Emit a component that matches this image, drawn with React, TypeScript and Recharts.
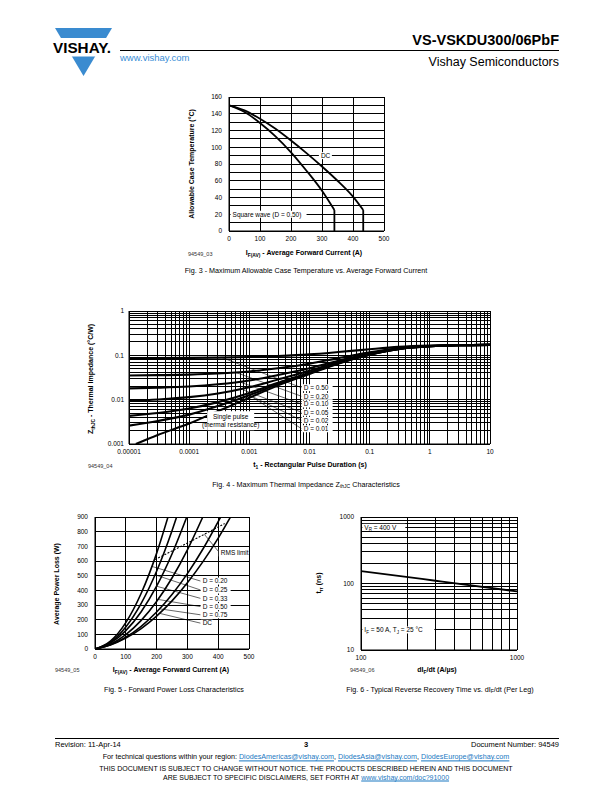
import React from 'react';
import { LineChart, Line, XAxis, YAxis, CartesianGrid, ReferenceLine, ReferenceDot } from 'recharts';

const FONT = '"Liberation Sans", Arial, Helvetica, sans-serif';

// ---------- Fig. 3 ----------
const fig3XTicks = [0, 100, 200, 300, 400, 500];
const fig3YTicks = [0, 10, 20, 30, 40, 50, 60, 70, 80, 90, 100, 110, 120, 130, 140, 150, 160];
const fig3DcCurrent = [0, 50, 100, 150, 200, 250, 300, 350, 400, 433];
const fig3DcTemp = [150, 144, 134, 122, 108, 93, 77, 60, 41, 25];
const fig3DcDropCurrent = [433, 433];
const fig3DcDropTemp = [25, 0];
const fig3SqCurrent = [0, 50, 100, 150, 200, 250, 300, 340];
const fig3SqTemp = [150, 142, 129, 113, 94, 72, 48, 25];
const fig3SqDropCurrent = [340, 340];
const fig3SqDropTemp = [25, 0];

// ---------- Fig. 4 ----------
const fig4Mantissas = [1, 2, 3, 4, 5, 6, 7, 8, 9];
const fig4XDecades = [-5, -4, -3, -2, -1, 0];
const fig4YDecades = [-3, -2, -1];
const fig4XLabels: Record<string, string> = { '0.00001': '0.00001', '0.0001': '0.0001', '0.001': '0.001', '0.01': '0.01', '0.1': '0.1', '1': '1', '10': '10' };
const fig4YLabels: Record<string, string> = { '0.001': '0.001', '0.01': '0.01', '0.1': '0.1', '1': '1' };
const fig4Time = [0.00001, 0.00003, 0.0001, 0.0003, 0.001, 0.003, 0.01, 0.03, 0.1, 0.3, 1, 3, 10];
const fig4D050 = [0.0864, 0.0868, 0.0875, 0.0888, 0.0915, 0.0965, 0.105, 0.1185, 0.1375, 0.155, 0.166, 0.1705, 0.172];
const fig4D020 = [0.0351, 0.0357, 0.0367, 0.0388, 0.0432, 0.0512, 0.0648, 0.0864, 0.1168, 0.1448, 0.1624, 0.1696, 0.172];
const fig4D010 = [0.018, 0.0186, 0.0198, 0.0222, 0.0271, 0.0361, 0.0514, 0.0757, 0.1099, 0.1414, 0.1612, 0.1693, 0.172];
const fig4D005 = [0.0094, 0.0101, 0.0114, 0.0138, 0.019, 0.0286, 0.0447, 0.0704, 0.1065, 0.1397, 0.1606, 0.1692, 0.172];
const fig4D002 = [0.0043, 0.005, 0.0063, 0.0088, 0.0142, 0.024, 0.0407, 0.0671, 0.1044, 0.1387, 0.1602, 0.1691, 0.172];
const fig4D001 = [0.0026, 0.0033, 0.0046, 0.0072, 0.0126, 0.0225, 0.0393, 0.0661, 0.1037, 0.1383, 0.1601, 0.169, 0.172];
const fig4SingleTime = [0.000013, 0.00003, 0.0001, 0.0003, 0.001, 0.003, 0.01, 0.03, 0.1, 0.3, 1, 3, 10];
const fig4Single = [0.001, 0.0016, 0.0029, 0.0055, 0.011, 0.021, 0.038, 0.065, 0.103, 0.138, 0.16, 0.169, 0.172];
const fig4LabelNames = ['D = 0.50', 'D = 0.20', 'D = 0.10', 'D = 0.05', 'D = 0.02', 'D = 0.01'];
const fig4LabelZ = [0.0186, 0.0119, 0.00798, 0.00519, 0.00342, 0.00221];
const fig4LabelT = 0.0074;
const fig4LeaderT = [0.00035, 0.0006, 0.0007, 0.0008, 0.0009, 0.001];
const fig4LeaderZ = [0.089, 0.041, 0.025, 0.0165, 0.0135, 0.0126];

// ---------- Fig. 5 ----------
const fig5XTicks = [0, 100, 200, 300, 400, 500];
const fig5YTicks = [0, 100, 200, 300, 400, 500, 600, 700, 800, 900];
const fig5DcI = [0, 50, 100, 150, 200, 250, 300, 350, 400, 440];
const fig5DcP = [0, 27, 74, 139, 224, 328, 452, 594, 756, 900];
const fig5D075I = [0, 50, 100, 150, 200, 250, 300, 350, 408];
const fig5D075P = [0, 29, 80, 155, 252, 372, 514, 680, 900];
const fig5D050I = [0, 50, 100, 150, 200, 250, 300, 350];
const fig5D050P = [0, 33, 98, 195, 324, 484, 676, 900];
const fig5D033I = [0, 50, 100, 150, 200, 250, 298];
const fig5D033P = [0, 40, 125, 254, 428, 648, 900];
const fig5D025I = [0, 50, 100, 150, 200, 250, 265];
const fig5D025P = [0, 46, 150, 311, 530, 806, 900];
const fig5D020I = [0, 50, 100, 150, 200, 237];
const fig5D020P = [0, 54, 180, 380, 652, 900];
const fig5RmsI = [195, 297, 421];
const fig5RmsP = [610, 719, 855];
const fig5LabelNames = ['D = 0.20', 'D = 0.25', 'D = 0.33', 'D = 0.50', 'D = 0.75', 'DC'];
const fig5LabelP = [463, 402, 345, 289, 233, 176];
const fig5LabelI = 343;
const fig5LeaderI = [185, 195, 200, 205, 210, 210];
const fig5LeaderP = [563, 506, 428, 338, 274, 243];

// ---------- Fig. 6 ----------
const fig6XTicks = [100, 200, 300, 400, 500, 600, 700, 800, 900, 1000];
const fig6YTicks = [10, 20, 30, 40, 50, 60, 70, 80, 90, 100, 200, 300, 400, 500, 600, 700, 800, 900, 1000];
const fig6Rate = [100, 300, 1000];
const fig6Trr = [154, 110, 76];

const pts = (xs: number[], ys: number[]) => xs.map((x, i) => ({ x, y: ys[i] }));
const logTicks = (decades: number[], last: number) => {
  const out: number[] = [];
  decades.forEach((d) => fig4Mantissas.forEach((m) => out.push(Number((m * Math.pow(10, d)).toPrecision(3)))));
  out.push(last);
  return out;
};
const fig4XTicks = logTicks(fig4XDecades, 10);
const fig4YTicks = logTicks(fig4YDecades, 1);

const tickStyle = { fontSize: 6.5, fill: '#000', fontFamily: FONT };
const GRID: any = { stroke: '#000', strokeWidth: 1, shapeRendering: 'crispEdges' };
const TOP: any = { zIndex: 1000 };

const boxShape = (text: React.ReactNode, w: number, h: number, offsetX = 0, fontSize = 6.5) => (p: any) => {
  const { cx, cy } = p;
  return (
    <g>
      <rect x={cx + offsetX} y={cy - h / 2} width={w} height={h} fill="#fff" />
      <text x={cx + offsetX + 2} y={cy} dy="0.35em" fontSize={fontSize} fontFamily={FONT} fill="#000">
        {text}
      </text>
    </g>
  );
};

const centerBoxShape = (lines: string[], w: number, h: number, fontSize = 6.5) => (p: any) => {
  const { cx, cy } = p;
  const lh = fontSize * 1.35;
  return (
    <g>
      <rect x={cx - w / 2} y={cy - h / 2} width={w} height={h} fill="#fff" />
      {lines.map((l, i) => (
        <text key={i} x={cx} y={cy + (i - (lines.length - 1) / 2) * lh} dy="0.35em" textAnchor="middle" fontSize={fontSize} fontFamily={FONT} fill="#000">
          {l}
        </text>
      ))}
    </g>
  );
};

const Txt: React.FC<{ x: number; y: number; size: number; bold?: boolean; anchor?: 'left' | 'center' | 'right'; color?: string; rotate?: boolean; children: React.ReactNode }> = ({ x, y, size, bold, anchor = 'left', color = '#000', rotate, children }) => {
  const tx = anchor === 'left' ? '0' : anchor === 'center' ? '-50%' : '-100%';
  return (
    <div
      style={{
        position: 'absolute',
        left: x,
        top: y,
        fontSize: size,
        fontWeight: bold ? 'bold' : 'normal',
        color,
        fontFamily: FONT,
        whiteSpace: 'nowrap',
        lineHeight: 1,
        transform: rotate ? 'translate(-50%,-50%) rotate(-90deg)' : `translate(${tx},-50%)`,
      }}
    >
      {children}
    </div>
  );
};

const Sub: React.FC<{ children: React.ReactNode }> = ({ children }) => (
  <span style={{ fontSize: '70%', verticalAlign: '-0.25em' }}>{children}</span>
);

const Link: React.FC<{ children: React.ReactNode }> = ({ children }) => (
  <span style={{ color: '#1a78c2', textDecoration: 'underline' }}>{children}</span>
);

const Fig3 = () => (
  <div style={{ position: 'absolute', left: 180, top: 87 }}>
    <LineChart width={214} height={174} margin={{ top: 10, right: 10, bottom: 0, left: 0 }}>
      <CartesianGrid {...GRID} />
      <XAxis type="number" dataKey="x" domain={[0, 500]} ticks={fig3XTicks} interval={0} tick={tickStyle} tickLine={false} tickSize={0} tickMargin={5} axisLine={{ stroke: '#000' }} height={30} allowDataOverflow />
      <YAxis type="number" dataKey="y" domain={[0, 160]} ticks={fig3YTicks} interval={0} tick={tickStyle} tickLine={false} tickSize={0} tickMargin={7} axisLine={{ stroke: '#000' }} width={49} tickFormatter={(v: number) => (v % 20 === 0 ? String(v) : '')} allowDataOverflow />
      <Line data={pts(fig3DcCurrent, fig3DcTemp)} dataKey="y" type="monotone" stroke="#000" strokeWidth={1.8} dot={false} isAnimationActive={false} />
      <Line data={pts(fig3DcDropCurrent, fig3DcDropTemp)} dataKey="y" type="linear" stroke="#000" strokeWidth={1.8} dot={false} isAnimationActive={false} />
      <Line data={pts(fig3SqCurrent, fig3SqTemp)} dataKey="y" type="monotone" stroke="#000" strokeWidth={1.8} dot={false} isAnimationActive={false} />
      <Line data={pts(fig3SqDropCurrent, fig3SqDropTemp)} dataKey="y" type="linear" stroke="#000" strokeWidth={1.8} dot={false} isAnimationActive={false} />
      <ReferenceDot {...TOP} x={5} y={20} r={0} shape={boxShape('Square wave (D = 0.50)', 76, 7, 0)} />
      <ReferenceDot {...TOP} x={290} y={90} r={0} shape={boxShape('DC', 13, 7, 0)} />
    </LineChart>
  </div>
);

const fig4Series = [fig4D050, fig4D020, fig4D010, fig4D005, fig4D002, fig4D001];

const Fig4 = () => (
  <div style={{ position: 'absolute', left: 79, top: 301 }}>
    <LineChart width={421} height={173} margin={{ top: 10, right: 10, bottom: 0, left: 0 }}>
      <CartesianGrid {...GRID} />
      <XAxis type="number" dataKey="x" scale="log" domain={[0.00001, 10]} ticks={fig4XTicks} interval={0} tick={tickStyle} tickLine={false} tickSize={0} tickMargin={5} axisLine={{ stroke: '#000' }} height={30} allowDataOverflow tickFormatter={(v: number) => fig4XLabels[String(v)] ?? ''} />
      <YAxis type="number" dataKey="y" scale="log" domain={[0.001, 1]} ticks={fig4YTicks} interval={0} tick={tickStyle} tickLine={false} tickSize={0} tickMargin={5} axisLine={{ stroke: '#000' }} width={50} allowDataOverflow tickFormatter={(v: number) => fig4YLabels[String(v)] ?? ''} />
      {fig4Series.map((s, i) => (
        <Line key={i} data={pts(fig4Time, s)} dataKey="y" type="monotone" stroke="#000" strokeWidth={2.1} dot={false} isAnimationActive={false} />
      ))}
      <Line data={pts(fig4SingleTime, fig4Single)} dataKey="y" type="monotone" stroke="#000" strokeWidth={2.1} dot={false} isAnimationActive={false} />
      {fig4LabelNames.map((n, i) => (
        <ReferenceLine key={'l' + i} segment={[{ x: fig4LeaderT[i], y: fig4LeaderZ[i] }, { x: fig4LabelT, y: fig4LabelZ[i] }]} stroke="#000" strokeWidth={0.6} />
      ))}
      {fig4LabelNames.map((n, i) => (
        <ReferenceDot {...TOP} key={'d' + i} x={fig4LabelT} y={fig4LabelZ[i]} r={0} shape={boxShape(n, 31, 7, 0)} />
      ))}
      <ReferenceDot {...TOP} x={0.00049} y={0.00335} r={0} shape={centerBoxShape(['Single pulse', '(thermal resistance)'], 47, 19)} />
    </LineChart>
  </div>
);

const fig5Series = [
  pts(fig5D020I, fig5D020P),
  pts(fig5D025I, fig5D025P),
  pts(fig5D033I, fig5D033P),
  pts(fig5D050I, fig5D050P),
  pts(fig5D075I, fig5D075P),
  pts(fig5DcI, fig5DcP),
];

const Fig5 = () => (
  <div style={{ position: 'absolute', left: 45, top: 507 }}>
    <LineChart width={214} height={172} margin={{ top: 10, right: 10, bottom: 0, left: 0 }}>
      <CartesianGrid {...GRID} />
      <XAxis type="number" dataKey="x" domain={[0, 500]} ticks={fig5XTicks} interval={0} tick={tickStyle} tickLine={false} tickSize={0} tickMargin={5} axisLine={{ stroke: '#000' }} height={30} allowDataOverflow />
      <YAxis type="number" dataKey="y" domain={[0, 900]} ticks={fig5YTicks} interval={0} tick={tickStyle} tickLine={false} tickSize={0} tickMargin={7} axisLine={{ stroke: '#000' }} width={50} allowDataOverflow />
      {fig5Series.map((s, i) => (
        <Line key={i} data={s} dataKey="y" type="monotone" stroke="#000" strokeWidth={1.6} dot={false} isAnimationActive={false} />
      ))}
      <Line data={pts(fig5RmsI, fig5RmsP)} dataKey="y" type="monotone" stroke="#000" strokeWidth={1.1} strokeDasharray="2 1.5" dot={false} isAnimationActive={false} />
      {fig5LabelNames.map((n, i) => (
        <ReferenceLine key={'l' + i} segment={[{ x: fig5LeaderI[i], y: fig5LeaderP[i] }, { x: fig5LabelI, y: fig5LabelP[i] }]} stroke="#000" strokeWidth={0.6} />
      ))}
      <ReferenceLine segment={[{ x: 355, y: 782 }, { x: 402, y: 662 }]} stroke="#000" strokeWidth={0.6} />
      {fig5LabelNames.map((n, i) => (
        <ReferenceDot {...TOP} key={'d' + i} x={fig5LabelI} y={fig5LabelP[i]} r={0} shape={boxShape(n, n === 'DC' ? 12 : 30, 7, 0)} />
      ))}
      <ReferenceDot {...TOP} x={402} y={655} r={0} shape={boxShape('RMS limit', 28, 7, 0)} />
    </LineChart>
  </div>
);

const Fig6 = () => (
  <div style={{ position: 'absolute', left: 311, top: 507 }}>
    <LineChart width={216} height={173} margin={{ top: 10, right: 10, bottom: 0, left: 0 }}>
      <CartesianGrid {...GRID} />
      <XAxis type="number" dataKey="x" scale="log" domain={[100, 1000]} ticks={fig6XTicks} interval={0} tick={tickStyle} tickLine={false} tickSize={0} tickMargin={5} axisLine={{ stroke: '#000' }} height={30} allowDataOverflow tickFormatter={(v: number) => (v === 100 || v === 1000 ? String(v) : '')} />
      <YAxis type="number" dataKey="y" scale="log" domain={[10, 1000]} ticks={fig6YTicks} interval={0} tick={tickStyle} tickLine={false} tickSize={0} tickMargin={7} axisLine={{ stroke: '#000' }} width={50} allowDataOverflow tickFormatter={(v: number) => (v === 10 || v === 100 || v === 1000 ? String(v) : '')} />
      <Line data={pts(fig6Rate, fig6Trr)} dataKey="y" type="monotone" stroke="#000" strokeWidth={1.8} dot={false} isAnimationActive={false} />
      <ReferenceDot
        {...TOP}
        x={102}
        y={700}
        r={0}
        shape={boxShape(
          <>
            <tspan>V</tspan>
            <tspan fontSize={4.5} dy={1.5}>R</tspan>
            <tspan dy={-1.5}> = 400 V</tspan>
          </>,
          43,
          7,
          0
        )}
      />
      <ReferenceDot
        {...TOP}
        x={102}
        y={20}
        r={0}
        shape={boxShape(
          <>
            <tspan>I</tspan>
            <tspan fontSize={4.5} dy={1.5}>F</tspan>
            <tspan dy={-1.5}> = 50 A, T</tspan>
            <tspan fontSize={4.5} dy={1.5}>J</tspan>
            <tspan dy={-1.5}> = 25 °C</tspan>
          </>,
          72,
          7,
          0
        )}
      />
    </LineChart>
  </div>
);

const Logo = () => (
  <svg width={130} height={90} style={{ position: 'absolute', left: 0, top: 0 }}>
    <polygon points="55,28 112,28 83.5,76" fill="#3a8bd0" />
    <rect x={45} y={38} width={75} height={18.5} fill="#fff" />
    <text x={53} y={53} fontSize={15.5} fontWeight="bold" fontFamily={FONT} fill="#000" textLength={58} lengthAdjust="spacingAndGlyphs">
      VISHAY.
    </text>
  </svg>
);

export default function App() {
  return (
    <div style={{ position: 'absolute', left: 0, top: 0, width: 612, height: 792, background: '#fff', fontFamily: FONT, overflow: 'hidden' }}>
      <Logo />
      <div style={{ position: 'absolute', left: 120, top: 50, width: 439, height: 1.2, background: '#000' }} />
      <Txt x={559} y={40} size={14.5} bold anchor="right">VS-VSKDU300/06PbF</Txt>
      <Txt x={559} y={62} size={12.5} anchor="right">Vishay Semiconductors</Txt>
      <Txt x={120} y={58} size={9.5} color="#3a8ed6">www.vishay.com</Txt>

      <Fig3 />
      <Txt x={191} y={164} size={7} bold rotate>Allowable Case Temperature (°C)</Txt>
      <Txt x={304} y={254} size={7} bold anchor="center">I<Sub>F(AV)</Sub> - Average Forward Current (A)</Txt>
      <Txt x={188} y={255} size={5.5} color="#333">94549_03</Txt>
      <Txt x={306} y={271} size={7.2} anchor="center">Fig. 3 - Maximum Allowable Case Temperature vs. Average Forward Current</Txt>

      <Fig4 />
      <Txt x={92} y={379} size={7} bold rotate>Z<Sub>thJC</Sub> - Thermal Impedance (°C/W)</Txt>
      <Txt x={310} y={466} size={7} bold anchor="center">t<Sub>1</Sub> - Rectangular Pulse Duration (s)</Txt>
      <Txt x={88} y={467} size={5.5} color="#333">94549_04</Txt>
      <Txt x={306} y={485} size={7.2} anchor="center">Fig. 4 - Maximum Thermal Impedance Z<Sub>thJC</Sub> Characteristics</Txt>

      <Fig5 />
      <Txt x={56} y={584} size={7} bold rotate>Average Power Loss (W)</Txt>
      <Txt x={171} y={671} size={7} bold anchor="center">I<Sub>F(AV)</Sub> - Average Forward Current (A)</Txt>
      <Txt x={55} y={671} size={5.5} color="#333">94549_05</Txt>
      <Txt x={174} y={690} size={7.2} anchor="center">Fig. 5 - Forward Power Loss Characteristics</Txt>

      <Fig6 />
      <Txt x={320} y={583} size={7} bold rotate>t<Sub>rr</Sub> (ns)</Txt>
      <Txt x={437} y={671} size={7} bold anchor="center">dI<Sub>F</Sub>/dt (A/µs)</Txt>
      <Txt x={350} y={671} size={5.5} color="#333">94549_06</Txt>
      <Txt x={440} y={690} size={7.2} anchor="center">Fig. 6 - Typical Reverse Recovery Time vs. dI<Sub>F</Sub>/dt (Per Leg)</Txt>

      <div style={{ position: 'absolute', left: 55, top: 738, width: 504, height: 1.2, background: '#000' }} />
      <Txt x={55} y={744.5} size={7.5}>Revision: 11-Apr-14</Txt>
      <Txt x={306} y={745} size={7.5} bold anchor="center">3</Txt>
      <Txt x={559} y={744.5} size={7.5} anchor="right">Document Number: 94549</Txt>
      <Txt x={306} y={757} size={7.2} anchor="center">
        For technical questions within your region: <Link>DiodesAmericas@vishay.com</Link>, <Link>DiodesAsia@vishay.com</Link>, <Link>DiodesEurope@vishay.com</Link>
      </Txt>
      <Txt x={306} y={768} size={7} anchor="center">THIS DOCUMENT IS SUBJECT TO CHANGE WITHOUT NOTICE. THE PRODUCTS DESCRIBED HEREIN AND THIS DOCUMENT</Txt>
      <Txt x={306} y={777} size={7} anchor="center">
        ARE SUBJECT TO SPECIFIC DISCLAIMERS, SET FORTH AT <Link>www.vishay.com/doc?91000</Link>
      </Txt>
    </div>
  );
}
